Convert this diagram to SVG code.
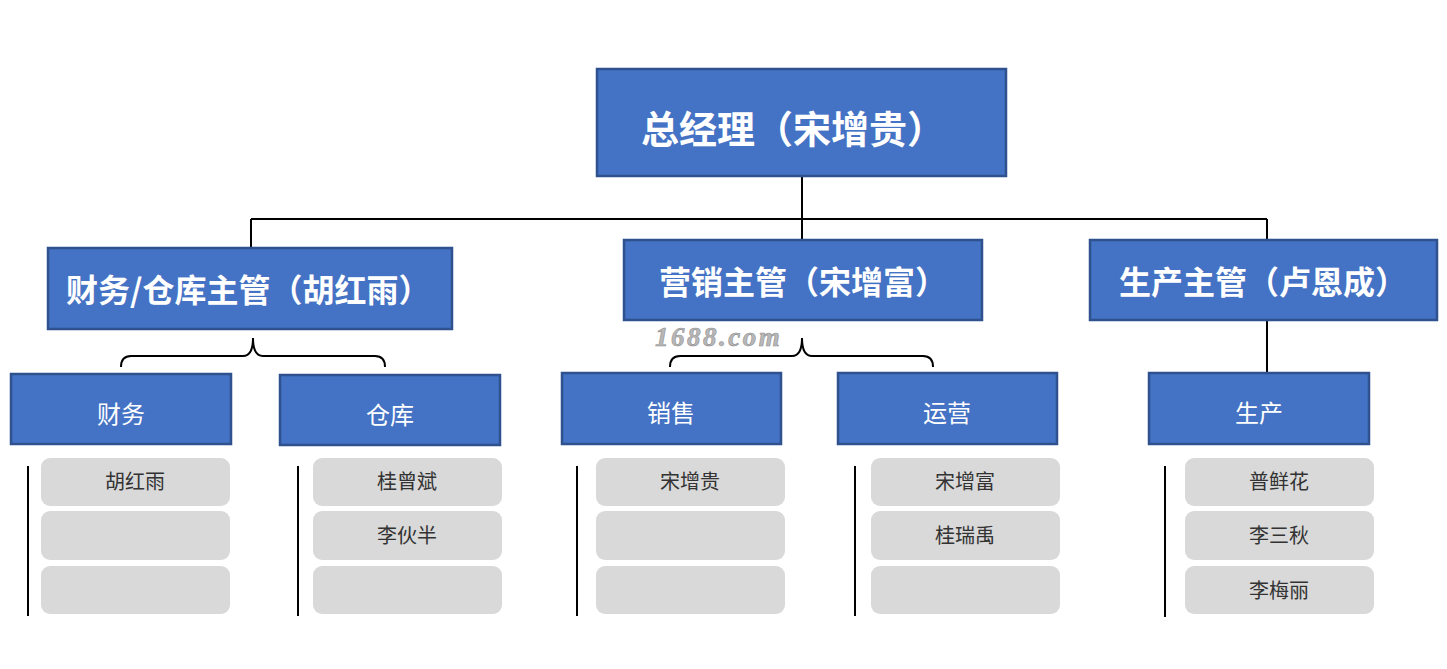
<svg xmlns="http://www.w3.org/2000/svg" width="1447" height="669" viewBox="0 0 1447 669">
<style>
.box{fill:#4472C4;stroke:#2F528F;stroke-width:2.5}
.item{fill:#D9D9D9}
.t{font-family:"Noto Sans CJK SC","Noto Sans",sans-serif;fill:#FFFFFF}
.big{font-size:38px;font-weight:700}
.mid{font-size:32px;font-weight:700}
.sm{font-size:24px}
.it{font-family:"Noto Sans CJK SC","Noto Sans",sans-serif;font-size:20px;fill:#333333;text-anchor:middle}
.ln{fill:none;stroke:#000;stroke-width:2}
</style>
<rect width="1447" height="669" fill="#FFFFFF"/>
<g id="connectors">
<path class="ln" d="M802,176 V240 M251,219 H1267 M251,219 V248 M1267,219 V240 M1267,320 V373"/>
<path class="ln" d="M121,367 Q121,356 131,356 H243 Q253,356 253,338 Q253,356 263,356 H375 Q385,356 385,367"/>
<path class="ln" d="M670,367 Q670,356 680,356 H792 Q802,356 802,338 Q802,356 812,356 H923 Q933,356 933,367"/>
<path class="ln" d="M28,466 V616 M298,466 V616 M577,466 V616 M855,466 V616 M1165,466 V617"/>
</g>
<g id="gm">
<rect class="box" x="597" y="69" width="409" height="107"/>
<text class="t big" x="641" y="143">总经理（宋增贵）</text>
</g>
<g id="finance-mgr">
<rect class="box" x="48" y="248" width="404" height="81"/>
<text class="t mid" x="66" y="302">财务/仓库主管（胡红雨）</text>
</g>
<g id="marketing-mgr">
<rect class="box" x="624" y="240" width="358" height="80"/>
<text class="t mid" x="659" y="294">营销主管（宋增富）</text>
</g>
<g id="production-mgr">
<rect class="box" x="1090" y="240" width="347" height="80"/>
<text class="t mid" x="1119" y="294">生产主管（卢恩成）</text>
</g>
<text x="655" y="346" font-family="Liberation Serif,serif" font-style="italic" font-weight="700" font-size="27" fill="#B8B8B8" stroke="#8F8F8F" stroke-width="0.6" letter-spacing="2.5">1688.com</text>
<g id="finance">
<rect class="box" x="11" y="374" width="220" height="70"/>
<text class="t sm" x="121" y="423" text-anchor="middle">财务</text>
<rect class="item" x="41" y="458" width="189" height="48" rx="9"/>
<text class="it" x="135" y="489">胡红雨</text>
<rect class="item" x="41" y="511" width="189" height="49" rx="9"/>
<rect class="item" x="41" y="566" width="189" height="48" rx="9"/>
</g>
<g id="warehouse">
<rect class="box" x="280" y="375" width="220" height="70"/>
<text class="t sm" x="390" y="424" text-anchor="middle">仓库</text>
<rect class="item" x="313" y="458" width="189" height="48" rx="9"/>
<text class="it" x="407" y="489">桂曾斌</text>
<rect class="item" x="313" y="511" width="189" height="49" rx="9"/>
<text class="it" x="407" y="543">李伙半</text>
<rect class="item" x="313" y="566" width="189" height="48" rx="9"/>
</g>
<g id="sales">
<rect class="box" x="562" y="373" width="219" height="71"/>
<text class="t sm" x="671" y="422" text-anchor="middle">销售</text>
<rect class="item" x="596" y="458" width="189" height="48" rx="9"/>
<text class="it" x="690" y="489">宋增贵</text>
<rect class="item" x="596" y="511" width="189" height="49" rx="9"/>
<rect class="item" x="596" y="566" width="189" height="48" rx="9"/>
</g>
<g id="operations">
<rect class="box" x="838" y="373" width="219" height="71"/>
<text class="t sm" x="947" y="422" text-anchor="middle">运营</text>
<rect class="item" x="871" y="458" width="189" height="48" rx="9"/>
<text class="it" x="965" y="489">宋增富</text>
<rect class="item" x="871" y="511" width="189" height="49" rx="9"/>
<text class="it" x="965" y="543">桂瑞禹</text>
<rect class="item" x="871" y="566" width="189" height="48" rx="9"/>
</g>
<g id="production">
<rect class="box" x="1149" y="373" width="220" height="71"/>
<text class="t sm" x="1259" y="422" text-anchor="middle">生产</text>
<rect class="item" x="1185" y="458" width="189" height="48" rx="9"/>
<text class="it" x="1279" y="489">普鲜花</text>
<rect class="item" x="1185" y="511" width="189" height="49" rx="9"/>
<text class="it" x="1279" y="543">李三秋</text>
<rect class="item" x="1185" y="566" width="189" height="48" rx="9"/>
<text class="it" x="1279" y="598">李梅丽</text>
</g>
</svg>
